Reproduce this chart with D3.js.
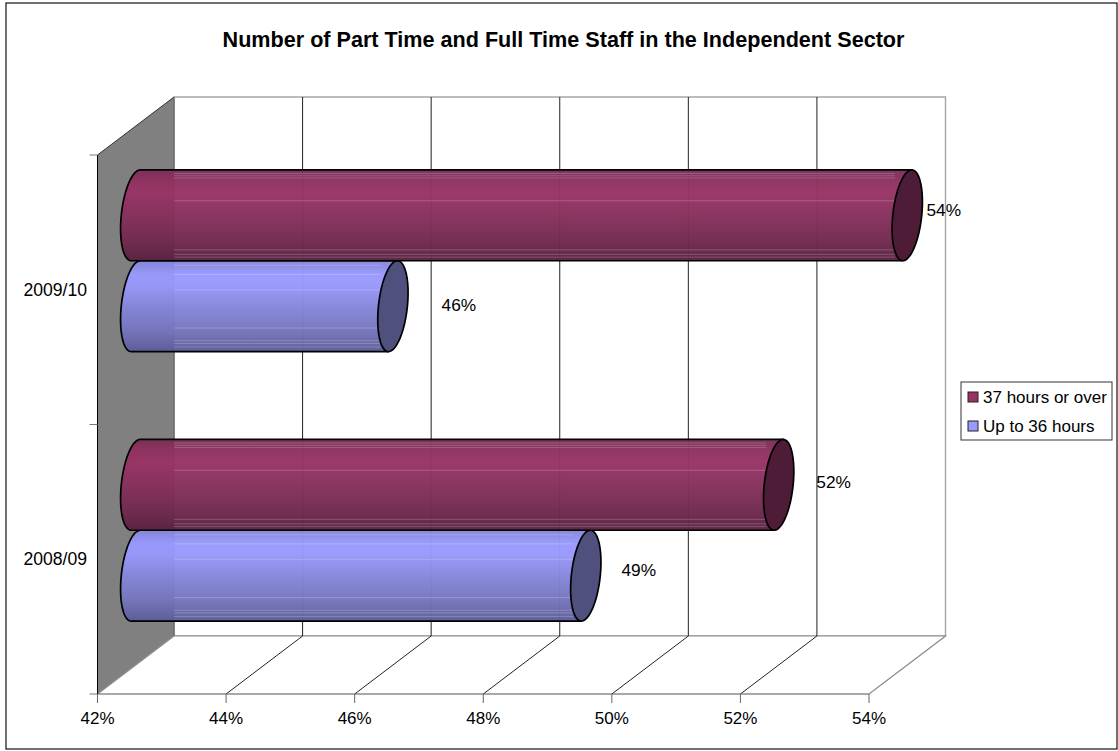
<!DOCTYPE html>
<html>
<head>
<meta charset="utf-8">
<style>
html,body{margin:0;padding:0;background:#fff;}
svg{display:block;}
text{font-family:"Liberation Sans",Arial,sans-serif;fill:#000;}
</style>
<script src="https://cdn.jsdelivr.net/npm/d3@7/dist/d3.min.js"></script>
</head>
<body>
<div id="chart"></div>
<script>
const titleText = "Number of Part Time and Full Time Staff in the Independent Sector";
const categories = ["2009/10", "2008/09"];
const seriesNames = ["Up to 36 hours", "37 hours or over"];
const upTo36 = [46, 49];
const over37 = [54, 52];
const xTicks = [42, 44, 46, 48, 50, 52, 54];
const maroonStreaks = [0.04, 0.065, 0.09, 0.34, 0.88, 0.93, 0.96];
const blueStreaks = [0.05, 0.15, 0.32, 0.74, 0.88, 0.91, 0.95];

const W = 1118, H = 751;
const depth = {dx: 76.5, dy: -58};
const plot = {left: 97.5, right: 869, top: 155, bottom: 694};
const x = d3.scaleLinear().domain([42, 54]).range([plot.left, plot.right]);
const y = d3.scaleBand().domain(categories).range([plot.top, plot.bottom]);
const bars = d3.scaleBand().domain(["over", "upto"]).range([0, y.bandwidth()]).paddingOuter(0.483).paddingInner(0);
const fmt = d => d + "%";

const svg = d3.select("#chart").append("svg").attr("width", W).attr("height", H);
const defs = svg.append("defs");
function grad(id, stops) {
  const g = defs.append("linearGradient").attr("id", id).attr("x1", 0).attr("x2", 0).attr("y1", 0).attr("y2", 1);
  stops.forEach(s => g.append("stop").attr("offset", s[0]).attr("stop-color", s[1]));
}
grad("gMaroon", [[0, "#7a2d55"], [0.12, "#8e3160"], [0.25, "#993366"], [0.5, "#87305d"], [0.75, "#732a50"], [0.93, "#612444"], [1, "#57203e"]]);
grad("gBlue", [[0, "#8585d8"], [0.15, "#9999ff"], [0.27, "#9898fc"], [0.5, "#8686dc"], [0.75, "#7676bf"], [0.93, "#6464a4"], [1, "#5a5a94"]]);

svg.append("rect").attr("x", 6).attr("y", 3).attr("width", 1111).attr("height", 746)
  .attr("fill", "#fff").attr("stroke", "#111").attr("stroke-width", 1.2);

svg.append("text").attr("x", 563.5).attr("y", 47).attr("text-anchor", "middle")
  .attr("font-weight", "bold").attr("font-size", 21.6).text(titleText);

const poly = pts => d3.line()(pts);
const bx = plot.left + depth.dx, bxr = plot.right + depth.dx;
const bTop = plot.top + depth.dy, bBot = plot.bottom + depth.dy;

// back wall
svg.append("path").attr("d", poly([[bx, bTop], [bxr, bTop], [bxr, bBot], [bx, bBot]]) + "Z")
  .attr("fill", "#fff").attr("stroke", "#a6a6a6").attr("stroke-width", 1.4);
// side wall
svg.append("path").attr("d", poly([[plot.left, plot.top], [bx, bTop], [bx, bBot], [plot.left, plot.bottom]]) + "Z")
  .attr("fill", "#808080");
svg.append("path").attr("d", poly([[plot.left, plot.top], [bx, bTop]]))
  .attr("fill", "none").attr("stroke", "#333").attr("stroke-width", 1);
svg.append("path").attr("d", poly([[bx, bTop], [bx, bBot]]))
  .attr("stroke", "#6e6e6e").attr("stroke-width", 1.5);
// floor
svg.append("path").attr("d", poly([[plot.left, plot.bottom], [bx, bBot], [bxr, bBot], [plot.right, plot.bottom]]))
  .attr("fill", "#fff").attr("stroke", "#8c8c8c").attr("stroke-width", 1.2);

// gridlines
const gridTicks = xTicks.slice(1, -1);
svg.append("g").selectAll("path").data(gridTicks).join("path")
  .attr("d", d => poly([[x(d) + depth.dx, bTop], [x(d) + depth.dx, bBot], [x(d), plot.bottom]]))
  .attr("fill", "none").attr("stroke", "#222").attr("stroke-width", 1);

// front axes
svg.append("line").attr("x1", plot.left).attr("x2", plot.right).attr("y1", plot.bottom).attr("y2", plot.bottom)
  .attr("stroke", "#555").attr("stroke-width", 1.2);
svg.append("line").attr("x1", plot.left).attr("x2", plot.left).attr("y1", plot.top).attr("y2", plot.bottom)
  .attr("stroke", "#000").attr("stroke-width", 1);
svg.append("g").selectAll("line").data(xTicks).join("line")
  .attr("x1", d => x(d)).attr("x2", d => x(d)).attr("y1", plot.bottom).attr("y2", plot.bottom + 9)
  .attr("stroke", "#666").attr("stroke-width", 1);
svg.append("g").selectAll("line").data(y.domain().map(c => y(c)).concat(plot.bottom)).join("line")
  .attr("x1", plot.left - 8).attr("x2", plot.left).attr("y1", d => d).attr("y2", d => d)
  .attr("stroke", "#777").attr("stroke-width", 1);
svg.append("g").selectAll("text").data(xTicks).join("text")
  .attr("x", d => x(d)).attr("y", 724).attr("text-anchor", "middle").attr("font-size", 17).text(fmt);
svg.append("g").selectAll("text").data(categories).join("text")
  .attr("x", 87).attr("y", c => y(c) + y.bandwidth() / 2 + 6).attr("text-anchor", "end").attr("font-size", 17.6).text(c => c);

// cylinders
const zDx = depth.dx / 2, zDy = depth.dy / 2;
const RX = 14.5, TILT = 4.5;
function ellipsePt(cx, cy, ry, t) {
  return [cx + RX * Math.cos(t) - TILT * Math.sin(t), cy + ry * Math.sin(t)];
}
function capPts(cx, cy, ry, a0, a1) {
  return d3.range(0, 49).map(i => ellipsePt(cx, cy, ry, a0 + (a1 - a0) * i / 48));
}
function cylinder(key, values, gradId, capColor, streaks, labelOffsets) {
  const g = svg.append("g");
  categories.forEach((c, i) => {
    const top = y(c) + bars(key) + zDy;
    const h = bars.bandwidth();
    const ry = h / 2, cy = top + ry;
    const x0 = x(42) + zDx, x1 = x(values[i]) + zDx;
    const left = capPts(x0, cy, ry, -Math.PI / 2, -3 * Math.PI / 2);
    const pts = [ellipsePt(x1, cy, ry, -Math.PI / 2)].concat(left, [ellipsePt(x1, cy, ry, Math.PI / 2)]);
    g.append("path").attr("d", poly(pts) + "Z")
      .attr("fill", `url(#${gradId})`).attr("fill-opacity", 0.97)
      .attr("stroke", "#000").attr("stroke-width", 1.7).attr("stroke-linejoin", "round");
    g.append("g").selectAll("line").data(streaks).join("line")
      .attr("x1", bx).attr("x2", x1 - RX + 2)
      .attr("y1", f => top + f * h).attr("y2", f => top + f * h)
      .attr("stroke", "#fff").attr("stroke-opacity", 0.2).attr("stroke-width", 1);
    g.append("path").attr("d", poly(capPts(x1, cy, ry, 0, 2 * Math.PI)) + "Z")
      .attr("fill", capColor).attr("stroke", "#000").attr("stroke-width", 1.7);
    g.append("text").attr("x", x1 + labelOffsets[i][0]).attr("y", cy + labelOffsets[i][1] + 6)
      .attr("text-anchor", "middle").attr("font-size", 17.3).text(fmt(values[i]));
  });
}
cylinder("upto", upTo36, "gBlue", "#50507f", blueStreaks, [[66, -1], [53, -6]]);
cylinder("over", over37, "gMaroon", "#4f1c38", maroonStreaks, [[36.5, -5], [55, -3]]);

// legend
const legend = svg.append("g");
legend.append("rect").attr("x", 961).attr("y", 382).attr("width", 151).attr("height", 58)
  .attr("fill", "#fff").attr("stroke", "#333").attr("stroke-width", 1);
const legendRows = [
  {name: seriesNames[1], color: "#993366", y: 397},
  {name: seriesNames[0], color: "#9999ff", y: 426}
];
legendRows.forEach(r => {
  legend.append("rect").attr("x", 968).attr("y", r.y - 5).attr("width", 10).attr("height", 10)
    .attr("fill", r.color).attr("stroke", "#222").attr("stroke-width", 1);
  legend.append("text").attr("x", 983).attr("y", r.y + 6).attr("font-size", 17).text(r.name);
});
</script>
</body>
</html>
